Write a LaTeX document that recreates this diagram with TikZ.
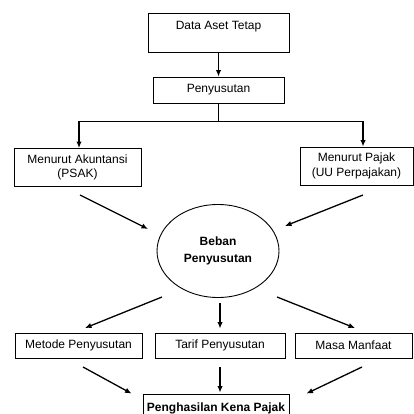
\documentclass[tikz,border=0pt]{standalone}
\usepackage{fontspec}
\setmainfont{Liberation Sans}
\usetikzlibrary{arrows.meta,shapes.geometric}

\tikzset{
  kotak/.style={draw, line width=0.9pt, rectangle, inner sep=0pt, align=center, font=\fontsize{12}{14.5}\selectfont},
  lingkar/.style={draw, line width=0.9pt, ellipse, inner sep=0pt, align=center, font=\fontsize{12}{16.5}\selectfont\bfseries},
  panah/.style={line width=1.3pt, -{Latex[length=6.5pt,width=5.5pt]}},
  garis/.style={line width=1.3pt}
}

\begin{document}
\begin{tikzpicture}[x=1pt, y=-1pt]
		\useasboundingbox (0,0) rectangle (414,414);

		% kotak atas
		\node[kotak, minimum width=141pt, minimum height=39pt] (data) at (218.5, 32.5) {Data Aset Tetap\\\mbox{}};
		\node[kotak, minimum width=131pt, minimum height=26pt] (susut) at (218.5, 90) {Penyusutan};

		% dua pendekatan
		\node[kotak, minimum width=127pt, minimum height=38pt] (akun) at (77.5, 167.5) {Menurut Akuntansi\\(PSAK)};
		\node[kotak, minimum width=113pt, minimum height=38pt] (pajak) at (356.5, 166) {Menurut Pajak\\(UU Perpajakan)};

		% beban penyusutan
		\node[lingkar, minimum width=122pt, minimum height=93pt] (beban) at (218, 251) {Beban\\Penyusutan};

		% tiga unsur
		\node[kotak, minimum width=127pt, minimum height=25pt] (metode) at (78.5, 345.5) {Metode Penyusutan};
		\node[kotak, minimum width=130pt, minimum height=25pt] (tarif) at (220, 345.5) {Tarif Penyusutan};
		\node[kotak, minimum width=117pt, minimum height=25pt] (masa) at (353.5, 345.5) {Masa Manfaat};

		% hasil akhir
		\node[kotak, minimum width=146pt, minimum height=28pt, font=\fontsize{12}{14.5}\selectfont\bfseries] (hasil) at (216, 408) {Penghasilan Kena Pajak};

		% titik bantu panah
		\coordinate (akun1) at (80, 195);
		\coordinate (akun2) at (148, 229);
		\coordinate (pajak1) at (363, 195);
		\coordinate (pajak2) at (285, 226);
		\coordinate (kiri1) at (162, 297);
		\coordinate (kiri2) at (85, 328);
		\coordinate (kanan1) at (277, 297);
		\coordinate (kanan2) at (355, 328);
		\coordinate (metode1) at (83, 367);
		\coordinate (masa1) at (362, 367);

		\draw[panah] (data) -- (susut);
		\draw[garis] (susut.south) -- ++(0,18) coordinate (cabang);
		\draw[panah] (cabang) -| ([xshift=1.5pt]akun.north);
		\draw[panah] (cabang) -| ([xshift=6.5pt]pajak.north);

		\draw[panah] (akun1) -- (akun2);
		\draw[panah] (pajak1) -- (pajak2);

		\draw[panah] (kiri1) -- (kiri2);
		\draw[panah, shorten <=5pt, shorten >=4pt] (beban.south -| tarif.north) -- (tarif.north);
		\draw[panah] (kanan1) -- (kanan2);

		\draw[panah] (metode1) -- ([xshift=-11pt]hasil.north west);
		\draw[panah, shorten <=9pt, shorten >=1pt] (tarif.south) -- (tarif |- hasil.north);
		\draw[panah] (masa1) -- ([xshift=17pt]hasil.north east);

	\end{tikzpicture}
\end{document}
